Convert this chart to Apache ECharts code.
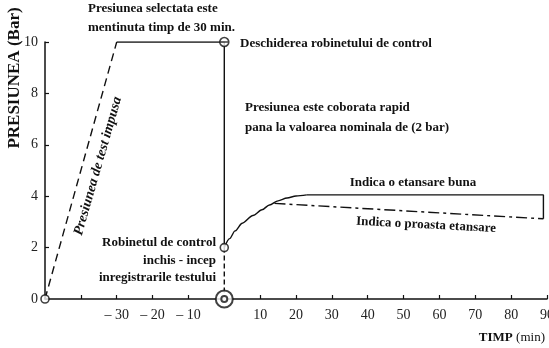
<!DOCTYPE html>
<html>
<head>
<meta charset="utf-8">
<script src="https://cdn.jsdelivr.net/npm/echarts@6/dist/echarts.min.js"></script>
<style>
  html, body { margin: 0; padding: 0; background: #fff; }
  #chart { width: 549px; height: 348px; }
</style>
</head>
<body>
<div id="chart"></div>
<script>
// Axis ticks
const xTickLabels = [-30, -20, -10, 10, 20, 30, 40, 50, 60, 70, 80, 90];
const yTickLabels = [0, 2, 4, 6, 8, 10];

// Pressure ramp up to the test pressure
const rampX = [-50, -30];
const rampY = [0, 10];
// Pressure held, then released at the control valve
const holdX = [-30, 0, 0];
const holdY = [10, 10, 2];
// Valve closed - recording starts
const closedX = [0, 0];
const closedY = [2, 0];
// Recovery curve (good seal)
const riseX = [0, 1.5, 3, 5, 8, 10.5, 12.6, 15, 17.5, 20, 23];
const riseY = [2, 2.35, 2.65, 2.95, 3.25, 3.47, 3.66, 3.82, 3.93, 4.01, 4.05];
const goodX = [23, 89, 89];
const goodY = [4.05, 4.05, 3.12];
// Poor seal: slow decline
const badX = [14, 89];
const badY = [3.72, 3.12];
// Event markers
const openX = [-50, 0];
const openY = [0, 2];
const valveX = [0];
const valveY = [10];
const startX = [0];
const startY = [0];

const zip = (xs, ys) => xs.map((x, i) => [x, ys[i]]);
const SERIF = '"Liberation Serif", "DejaVu Serif", serif';
const INK = '#111';

const chart = echarts.init(document.getElementById('chart'), null, { renderer: 'canvas' });

function txt(x, y, text, opt) {
  return {
    type: 'text', x: x, y: y, z: 50,
    style: Object.assign({
      text: text, fill: INK, font: 'bold 13px ' + SERIF,
      textAlign: 'left', textVerticalAlign: 'middle'
    }, opt || {})
  };
}

const lineBase = (data, style, extra) => Object.assign({
  type: 'line', data: data, symbol: 'none', silent: true,
  lineStyle: Object.assign({ color: INK, width: 1.4 }, style), z: 3
}, extra || {});

chart.setOption({
  animation: false,
  backgroundColor: '#fff',
  grid: { left: 45, right: 2, top: 42, bottom: 49, containLabel: false, outerBoundsMode: 'none' },
  xAxis: {
    type: 'value', min: -50, max: 90, interval: 10,
    axisLine: { onZero: false, lineStyle: { color: INK, width: 1.5 } },
    axisTick: { inside: true, length: 4, lineStyle: { color: INK, width: 1.2 } },
    splitLine: { show: false },
    axisLabel: {
      margin: 9, color: '#222', fontFamily: SERIF, fontSize: 14,
      showMaxLabel: true,
      formatter: v => xTickLabels.indexOf(v) < 0 ? '' : (v < 0 ? '\u2013 ' + Math.abs(v) : String(v))
    }
  },
  yAxis: {
    type: 'value', min: 0, max: 10, interval: 2,
    axisLine: { show: true, onZero: false, lineStyle: { color: INK, width: 1.5 } },
    axisTick: { show: true, inside: true, length: 4, lineStyle: { color: INK, width: 1.2 } },
    splitLine: { show: false },
    axisLabel: {
      margin: 7, color: '#222', fontFamily: SERIF, fontSize: 14,
      formatter: v => yTickLabels.indexOf(v) < 0 ? '' : String(v)
    }
  },
  series: [
    lineBase(zip(rampX, rampY), { type: [8, 5] }),
    lineBase(zip(holdX, holdY), {}),
    lineBase(zip(closedX, closedY), { type: [5, 3] }),
    lineBase(zip(riseX, riseY), {}, { smooth: 0.3, smoothMonotone: 'x' }),
    lineBase(zip(goodX, goodY), {}),
    lineBase(zip(badX, badY), { type: [11, 4, 3, 4] }),
    {
      type: 'scatter', data: zip(openX, openY), symbol: 'circle', symbolSize: 8, z: 10, silent: true,
      itemStyle: { color: '#fff', borderColor: INK, borderWidth: 1.6 }
    },
    {
      type: 'scatter', data: zip(valveX, valveY), z: 10, silent: true,
      symbol: 'path://M0,5 A5,5 0 1,1 10,5 A5,5 0 1,1 0,5 Z M0,5 L10,5', symbolSize: 9,
      itemStyle: { color: '#fff', borderColor: INK, borderWidth: 1.6 }
    },
    {
      type: 'scatter', data: zip(startX, startY), symbol: 'circle', symbolSize: 17, z: 10, silent: true,
      itemStyle: { color: '#fff', borderColor: INK, borderWidth: 2 }
    },
    {
      type: 'scatter', data: zip(startX, startY), symbol: 'circle', symbolSize: 6, z: 11, silent: true,
      itemStyle: { color: '#fff', borderColor: INK, borderWidth: 2 }
    }
  ],
  graphic: [
    {
      type: 'text', x: 15, y: 78, rotation: Math.PI / 2, z: 50,
      style: { text: 'PRESIUNEA (Bar)', fill: INK, font: 'bold 17px ' + SERIF, textAlign: 'center', textVerticalAlign: 'middle' }
    },
    {
      type: 'text', x: 545, y: 338, z: 50,
      style: {
        text: '{b|TIMP} {n|(min)}', textAlign: 'right', textVerticalAlign: 'middle',
        rich: {
          b: { font: 'bold 13px ' + SERIF, fill: INK },
          n: { font: '13px ' + SERIF, fill: INK }
        }
      }
    },
    txt(88, 9, 'Presiunea selectata este'),
    txt(88, 28, 'mentinuta timp de 30 min.'),
    txt(240, 44, 'Deschiderea robinetului de control'),
    txt(245, 108, 'Presiunea este coborata rapid'),
    txt(245, 128, 'pana la valoarea nominala de (2 bar)'),
    txt(413, 183, 'Indica o etansare buna', { textAlign: 'center' }),
    {
      type: 'text', x: 426, y: 225, rotation: -3 * Math.PI / 180, z: 50,
      style: { text: 'Indica o proasta etansare', fill: INK, font: 'bold 13px ' + SERIF, textAlign: 'center', textVerticalAlign: 'middle' }
    },
    txt(216, 243, 'Robinetul de control', { textAlign: 'right' }),
    txt(216, 261, 'inchis - incep', { textAlign: 'right' }),
    txt(216, 278, 'inregistrarile testului', { textAlign: 'right' }),
    {
      type: 'text', x: 98, y: 166, rotation: 74 * Math.PI / 180, z: 50,
      style: { text: 'Presiunea de test impusa', fill: INK, font: 'italic bold 14px ' + SERIF, textAlign: 'center', textVerticalAlign: 'middle' }
    }
  ]
});
</script>
</body>
</html>
